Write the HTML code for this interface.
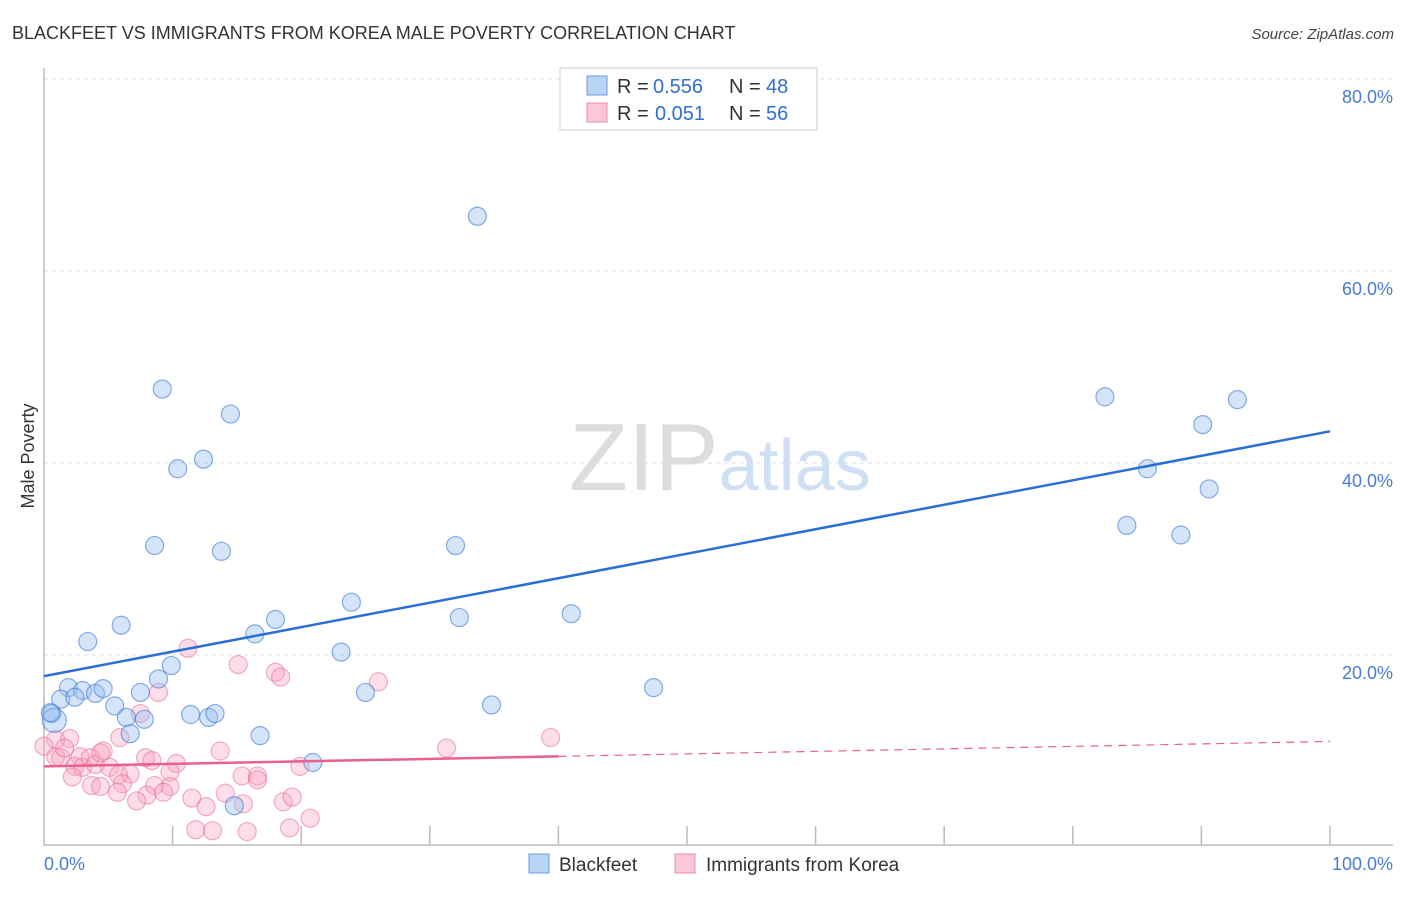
<!DOCTYPE html>
<html><head><meta charset="utf-8"><style>
body{margin:0;background:#fff;font-family:"Liberation Sans",sans-serif;}
svg text{font-family:"Liberation Sans",sans-serif;}
</style></head><body>
<svg id="chart" width="1406" height="892" xmlns="http://www.w3.org/2000/svg">
<text x="12" y="39" font-size="18" fill="#333">BLACKFEET VS IMMIGRANTS FROM KOREA MALE POVERTY CORRELATION CHART</text>
<text x="1394" y="39" font-size="15" fill="#444" text-anchor="end" font-style="italic">Source: ZipAtlas.com</text>
<text x="720" y="490" font-size="96" fill="#ddd" text-anchor="middle" font-family="Liberation Serif">ZIP<tspan fill="#cfe0f5" font-family="Liberation Sans" font-size="72">atlas</tspan></text>
<g id="grid"></g>
<line x1="44" y1="845" x2="1393" y2="845" stroke="#bbb" stroke-width="1.5"/>
<line x1="44" y1="68" x2="44" y2="845" stroke="#bbb" stroke-width="1.5"/>
<text transform="translate(34,456) rotate(-90)" font-size="18" fill="#333" text-anchor="middle">Male Poverty</text>
<text x="44" y="870" font-size="18" fill="#4a7bd0">0.0%</text>
<text x="1393" y="870" font-size="18" fill="#4a7bd0" text-anchor="end">100.0%</text>
<g id="points"></g>
<g id="lines"></g>
<g>
<rect x="560" y="68" width="257" height="62" fill="#fff" stroke="#ccc"/>
<rect x="587" y="76" width="20" height="19" fill="#b8d4f5" stroke="#6a9be0"/>
<rect x="587" y="103" width="20" height="19" fill="#fcc8d8" stroke="#ee8aa8"/>
<text x="617" y="93" font-size="20" fill="#333">R =</text>
<text x="653" y="93" font-size="20" fill="#2f6fd6">0.556</text>
<text x="729" y="93" font-size="20" fill="#333">N =</text>
<text x="766" y="93" font-size="20" fill="#2f6fd6">48</text>
<text x="617" y="120" font-size="20" fill="#333">R =</text>
<text x="655" y="120" font-size="20" fill="#2f6fd6">0.051</text>
<text x="729" y="120" font-size="20" fill="#333">N =</text>
<text x="766" y="120" font-size="20" fill="#2f6fd6">56</text>
</g>
<g>
<rect x="529" y="854" width="20" height="19" fill="#b8d4f5" stroke="#6a9be0"/>
<text x="559" y="871" font-size="19" fill="#333">Blackfeet</text>
<rect x="675" y="854" width="20" height="19" fill="#fcc8d8" stroke="#ee8aa8"/>
<text x="706" y="871" font-size="19" fill="#333">Immigrants from Korea</text>
</g>
</svg>
<script>
const yTicks=[20,40,60,80];
const yTickLabels=["20.0%","40.0%","60.0%","80.0%"];
const xTicks=[0,10,20,30,40,50,60,70,80,90,100];
const blackfeetX=[33.7,9.2,14.5,82.5,92.8,90.1,12.4,10.4,85.8,90.6,84.2,88.4,8.6,32.0,13.8,23.9,41.0,18.0,32.3,6.0,16.4,3.4,23.1,9.9,8.9,1.9,47.4,3.0,4.0,4.6,7.5,25.0,1.3,2.4,5.5,34.8,0.6,6.4,11.4,12.8,13.3,7.8,6.7,16.8,20.9,14.8,0.8,0.5];
const blackfeetY=[65.7,47.7,45.1,46.9,46.6,44.0,40.4,39.4,39.4,37.3,33.5,32.5,31.4,31.4,30.8,25.5,24.3,23.7,23.9,23.1,22.2,21.4,20.3,18.9,17.5,16.6,16.6,16.3,16.0,16.5,16.1,16.1,15.4,15.6,14.7,14.8,13.9,13.5,13.8,13.5,13.9,13.3,11.8,11.6,8.8,4.3,13.2,14.0];
const blackfeetR=[9,9,9,9,9,9,9,9,9,9,9,9,9,9,9,9,9,9,9,9,9,9,9,9,9,9,9,9,9,9,9,9,9,9,9,9,9,9,9,9,9,9,9,9,9,9,12,9];
const koreaX=[11.2,15.1,18.0,18.4,26.0,8.9,7.5,2.0,5.9,13.7,4.6,0.9,1.3,2.8,3.6,7.9,8.4,10.3,2.4,3.0,4.0,5.1,19.9,2.2,5.8,6.7,9.8,15.4,16.6,16.6,6.1,3.7,4.4,5.7,8.6,9.8,8.0,9.3,7.2,11.5,14.1,12.6,15.5,18.6,19.3,20.7,11.8,13.1,15.8,19.1,31.3,39.4,0.9,0.0,4.4,1.6];
const koreaY=[20.7,19.0,18.2,17.7,17.2,16.1,13.9,11.3,11.4,10.0,10.0,9.4,9.3,9.4,9.3,9.3,9.0,8.7,8.4,8.3,8.6,8.3,8.4,7.3,7.5,7.6,7.8,7.4,7.4,7.0,6.6,6.4,6.3,5.7,6.4,6.3,5.4,5.7,4.8,5.1,5.6,4.2,4.5,4.7,5.2,3.0,1.8,1.7,1.6,2.0,10.3,11.4,11.2,10.5,9.8,10.3];
const blueLine=[17.8,43.3];
const pinkLine=[8.4,11.0];
const X0=44,X1=1330,Y0=847,Y80=79;
function sx(v){return X0+(X1-X0)*v/100;}
function sy(v){return Y0-(Y0-Y80)*v/80;}
const NS="http://www.w3.org/2000/svg";
function mk(t,a,p){const e=document.createElementNS(NS,t);for(const k in a)e.setAttribute(k,a[k]);p.appendChild(e);return e;}
const grid=document.getElementById('grid');
yTicks.forEach((t,i)=>{
  const l=mk('line',{x1:44,x2:1393,y1:sy(t),y2:sy(t),stroke:'#ddd','stroke-dasharray':'4,4'},grid);
  
  
  const tx=mk('text',{x:1393,y:sy(t)+24,'font-size':18,fill:'#4a7bd0','text-anchor':'end'},grid);
  tx.textContent=yTickLabels[i];
  
  
});
xTicks.forEach(t=>{
  if(t===0)return;
  const l=mk('line',{x1:sx(t),x2:sx(t),y1:826,y2:845,stroke:'#bbb','stroke-width':1.5},grid);
  
  
});
const pts=document.getElementById('points');
koreaX.forEach((x,i)=>{
  const c=mk('circle',{cx:sx(x),cy:sy(koreaY[i]),r:9,fill:'rgba(248,160,190,0.35)',stroke:'rgba(232,110,150,0.55)','stroke-width':1.2},pts);
  
  
});
blackfeetX.forEach((x,i)=>{
  const c=mk('circle',{cx:sx(x),cy:sy(blackfeetY[i]),r:blackfeetR[i],fill:'rgba(150,190,240,0.4)',stroke:'rgba(60,120,210,0.6)','stroke-width':1.2},pts);
  
  
});
const lines=document.getElementById('lines');
const bl=mk('line',{x1:sx(0),y1:sy(blueLine[0]),x2:sx(100),y2:sy(blueLine[1]),stroke:'#2a6fd6','stroke-width':2.5},lines);


const pv=x=>pinkLine[0]+(pinkLine[1]-pinkLine[0])*x/100;
const pl=mk('line',{x1:sx(0),y1:sy(pv(0)),x2:sx(40),y2:sy(pv(40)),stroke:'#e8608c','stroke-width':2.5},lines);


const pd=mk('line',{x1:sx(40),y1:sy(pv(40)),x2:sx(100),y2:sy(pv(100)),stroke:'#e8608c','stroke-width':1.2,'stroke-dasharray':'8,6'},lines);


</script>
</body></html>
